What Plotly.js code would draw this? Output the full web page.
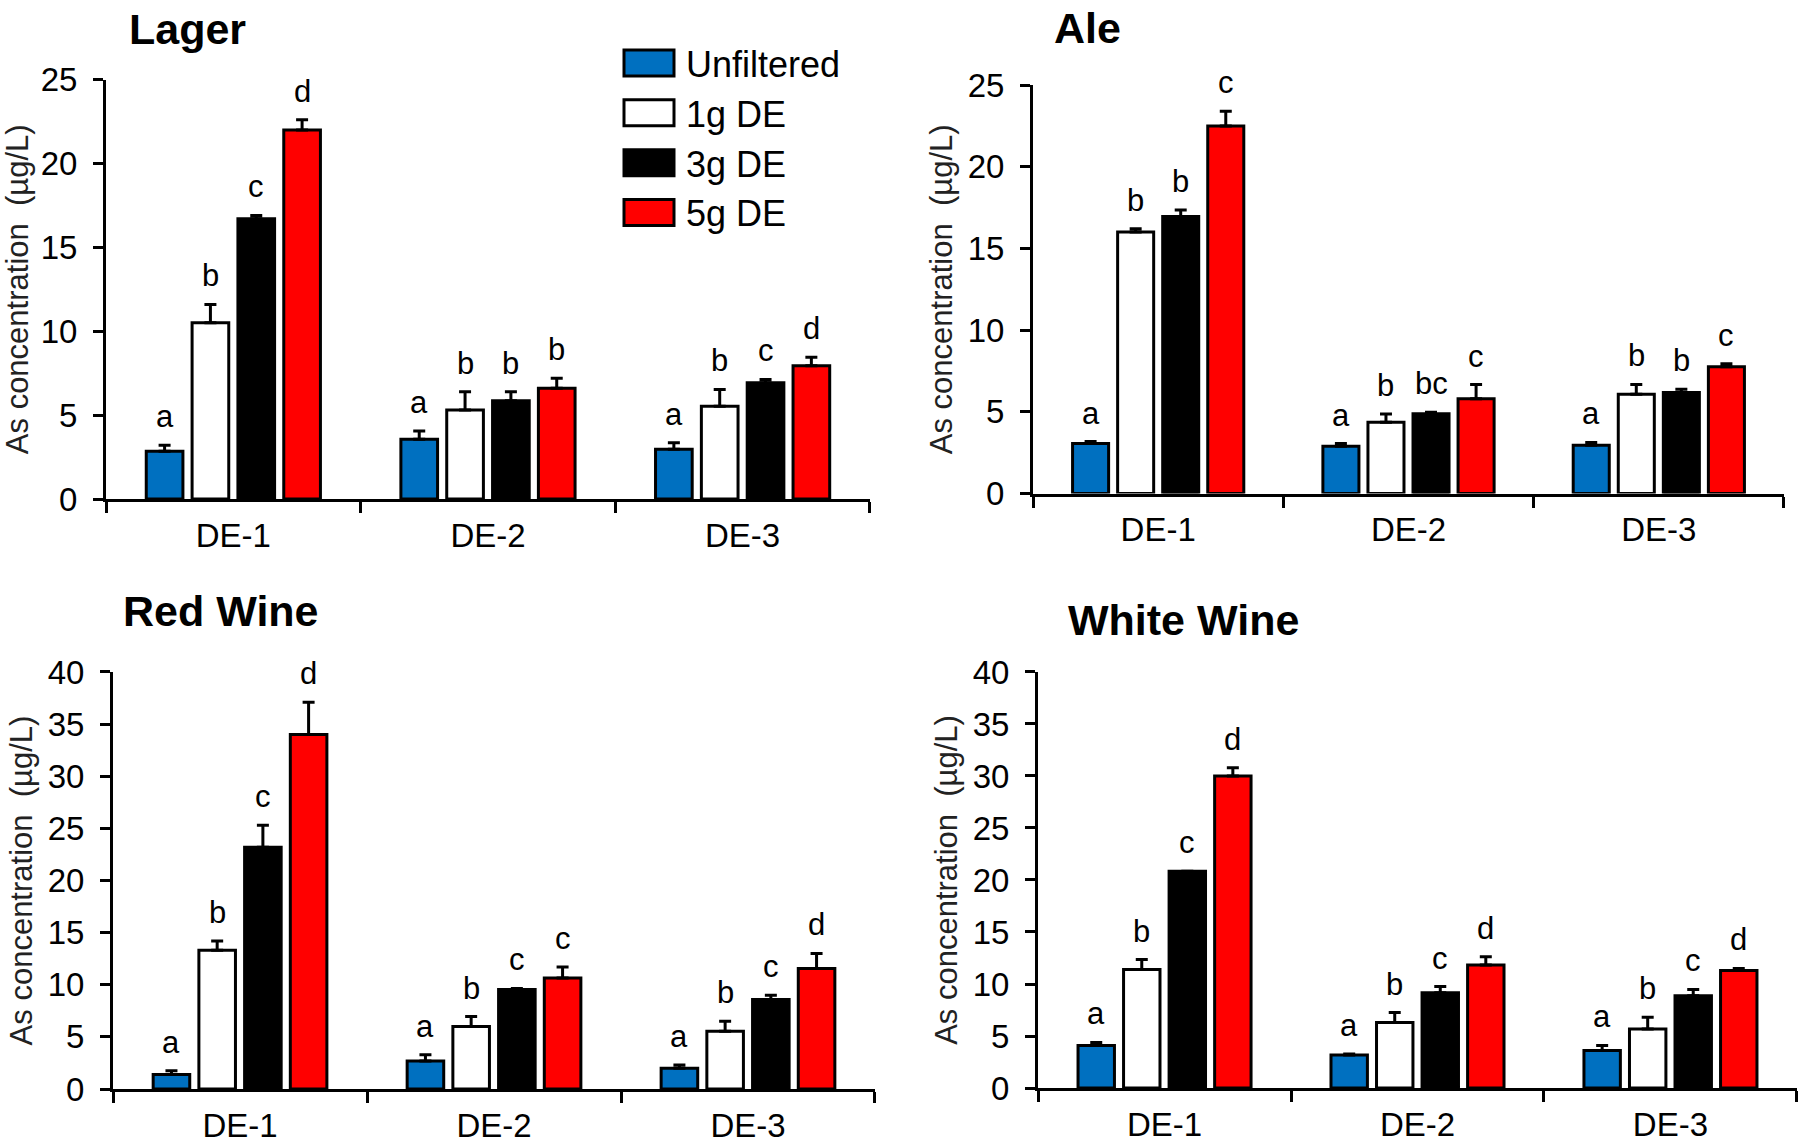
<!DOCTYPE html>
<html>
<head>
<meta charset="utf-8">
<script src="https://cdn.plot.ly/plotly-3.0.1.min.js"></script>
<style>
    html, body { margin: 0; padding: 0; background: #fff; }
    #chart { width: 1800px; height: 1143px; }
</style>
</head>
<body>
<div id="chart"></div>
<script>
// categories / series
const sites = ['DE-1', 'DE-2', 'DE-3'];
const seriesNames = ['Unfiltered', '1g DE', '3g DE', '5g DE'];
const seriesColors = ['#0070C0', '#FFFFFF', '#000000', '#FF0000'];

const panelTitles = ['Lager', 'Ale', 'Red Wine', 'White Wine'];
const panelYMax = [25, 25, 40, 40];

// one row per series (Unfiltered, 1g, 3g, 5g), one column per site
const lagerMean = [[2.85, 3.56, 2.96], [10.5, 5.3, 5.53], [16.7, 5.85, 6.93], [22.0, 6.6, 7.95]];
const lagerErr  = [[0.35, 0.5, 0.4], [1.1, 1.1, 1.0], [0.2, 0.55, 0.2], [0.6, 0.6, 0.5]];
const lagerSig  = [['a', 'a', 'a'], ['b', 'b', 'b'], ['c', 'b', 'c'], ['d', 'b', 'd']];

const aleMean = [[3.06, 2.89, 2.95], [16.0, 4.37, 6.08], [16.95, 4.88, 6.19], [22.5, 5.8, 7.76]];
const aleErr  = [[0.12, 0.17, 0.18], [0.2, 0.5, 0.6], [0.4, 0.1, 0.2], [0.9, 0.87, 0.18]];
const aleSig  = [['a', 'a', 'a'], ['b', 'b', 'b'], ['b', 'bc', 'b'], ['c', 'c', 'c']];

const redMean = [[1.4, 2.7, 2.0], [13.3, 6.0, 5.55], [23.2, 9.55, 8.6], [34.0, 10.65, 11.55]];
const redErr  = [[0.35, 0.6, 0.3], [0.9, 0.95, 0.95], [2.1, 0.1, 0.4], [3.1, 1.05, 1.45]];
const redSig  = [['a', 'a', 'a'], ['b', 'b', 'b'], ['c', 'c', 'c'], ['d', 'c', 'd']];

const whiteMean = [[4.08, 3.18, 3.6], [11.4, 6.29, 5.68], [20.85, 9.16, 8.88], [30.0, 11.82, 11.3]];
const whiteErr  = [[0.3, 0.1, 0.5], [0.95, 0.97, 1.12], [0, 0.6, 0.6], [0.8, 0.8, 0.2]];
const whiteSig  = [['a', 'a', 'a'], ['b', 'b', 'b'], ['c', 'c', 'c'], ['d', 'd', 'd']];

const panelMeans = [lagerMean, aleMean, redMean, whiteMean];
const panelErrs = [lagerErr, aleErr, redErr, whiteErr];
const panelSigs = [lagerSig, aleSig, redSig, whiteSig];

// plot areas (paper fractions)
const xDomains = [[0.0589, 0.4833], [0.5739, 0.9911], [0.0628, 0.4861], [0.5767, 0.9983]];
const yDomains = [[0.5634, 0.9304], [0.5682, 0.9256], [0.0472, 0.4121], [0.0481, 0.4121]];
const titlePos = [[0.0705, 0.9746], [0.5845, 0.9755], [0.0672, 0.4654], [0.5922, 0.4576]];

const FONT = '"Liberation Sans", Arial, sans-serif';
const BARGAP = 0.28;
const GROUPGAP = 0.2;

const traces = [];
const annotations = [];
const layout = {
    width: 1800,
    height: 1143,
    margin: { l: 0, r: 0, t: 0, b: 0 },
    paper_bgcolor: '#fff',
    plot_bgcolor: '#fff',
    font: { family: FONT, color: '#000' },
    barmode: 'group',
    bargap: BARGAP,
    bargroupgap: GROUPGAP,
    showlegend: true,
    legend: {
        x: 0.34, y: 0.971, xanchor: 'left', yanchor: 'top',
        font: { size: 36, color: '#000' },
        bgcolor: 'rgba(0,0,0,0)',
        itemwidth: 64,
        tracegroupgap: 0
    },
    annotations: annotations
};

function axisSuffix(p) { return p === 0 ? '' : String(p + 1); }

panelTitles.forEach((title, p) => {
    const sx = axisSuffix(p);
    const means = panelMeans[p];
    const errs = panelErrs[p];
    const sigs = panelSigs[p];

    // bars with one-sided error bars
    seriesNames.forEach((name, k) => {
        traces.push({
            type: 'bar',
            name: name,
            x: sites,
            y: means[k],
            xaxis: 'x' + sx,
            yaxis: 'y' + sx,
            legendgroup: name,
            showlegend: p === 0,
            marker: { color: seriesColors[k], line: { color: '#000', width: 3 } },
            error_y: {
                type: 'data', symmetric: false,
                array: errs[k], arrayminus: errs[k].map(() => 0),
                color: '#000', thickness: 3, width: 6
            },
            hoverinfo: 'skip'
        });
    });

    // significance letters above each error bar
    const slot = (1 - BARGAP) / seriesNames.length;
    seriesNames.forEach((name, k) => {
        const off = -(1 - BARGAP) / 2 + slot * (k + 0.5);
        sites.forEach((site, i) => {
            annotations.push({
                xref: 'x' + sx, yref: 'y' + sx,
                x: i + off, y: means[k][i] + errs[k][i],
                text: sigs[k][i],
                showarrow: false,
                xanchor: 'center', yanchor: 'bottom',
                yshift: 9,
                font: { size: 31, color: '#000' }
            });
        });
    });

    // panel title
    annotations.push({
        xref: 'paper', yref: 'paper',
        x: titlePos[p][0], y: titlePos[p][1],
        xanchor: 'left', yanchor: 'middle',
        text: '<b>' + title + '</b>',
        showarrow: false,
        font: { size: 43, color: '#000' }
    });

    layout['xaxis' + sx] = {
        domain: xDomains[p],
        anchor: 'y' + sx,
        type: 'category',
        showline: true, linecolor: '#000', linewidth: 3,
        ticks: 'outside', tickson: 'boundaries',
        ticklen: 11, tickwidth: 3, tickcolor: '#000',
        tickfont: { size: 33, color: '#000' },
        ticklabelstandoff: 5,
        showgrid: false, zeroline: false
    };
    layout['yaxis' + sx] = {
        domain: yDomains[p],
        anchor: 'x' + sx,
        range: [0, panelYMax[p]],
        dtick: 5,
        showline: true, linecolor: '#000', linewidth: 3,
        ticks: 'outside', ticklen: 10, tickwidth: 3, tickcolor: '#000',
        tickfont: { size: 33, color: '#000' },
        ticklabelstandoff: 9,
        showgrid: false, zeroline: false,
        title: {
            text: 'As concentration\u00a0 (µg/L)',
            font: { size: 31, color: '#222' },
            standoff: 6
        }
    };
});

Plotly.newPlot('chart', traces, layout, { displayModeBar: false, staticPlot: true })
    .then(gd => {
        // the reference uses wide legend swatches
        gd.querySelectorAll('.legend .legendpoints path').forEach(el => {
            el.setAttribute('d', 'M25,13H-25V-13H25Z');
        });
    });
</script>
</body>
</html>
